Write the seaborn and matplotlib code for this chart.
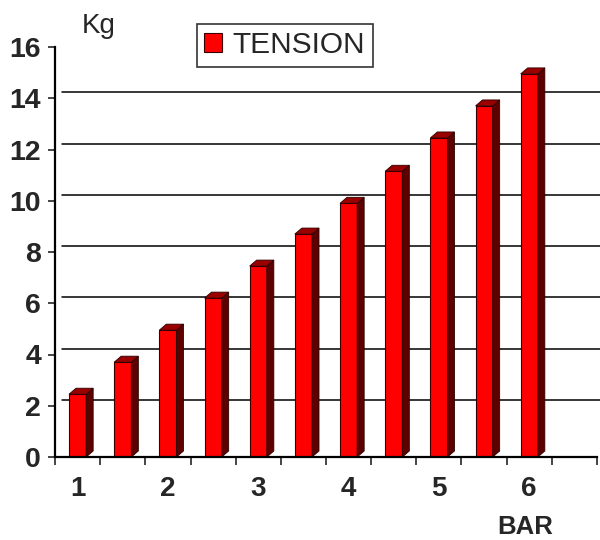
import matplotlib
matplotlib.use("Agg")
import matplotlib.pyplot as plt
from matplotlib.patches import Polygon, Patch
import pandas as pd
import seaborn as sns

# data
pressure = ["1", "1.5", "2", "2.5", "3", "3.5", "4", "4.5", "5", "5.5", "6"]
tension = [2.45, 3.7, 4.95, 6.2, 7.45, 8.7, 9.9, 11.15, 12.45, 13.7, 14.95]
slots = pressure + ["7"]          # empty last slot on the axis
tick_labels = ["1", "", "2", "", "3", "", "4", "", "5", "", "6", ""]

df = pd.DataFrame({"bar": pressure, "kg": tension})

sns.set_style("white")
plt.rcParams["font.family"] = ["Liberation Sans", "DejaVu Sans"]

fig = plt.figure(figsize=(6, 5.4), dpi=100)
ax = fig.add_axes([55 / 600, 1 - 457 / 540, 542 / 600, 410 / 540])

sns.barplot(data=df, x="bar", y="kg", order=slots, color="#ff0000",
            width=0.38, saturation=1, edgecolor="#3a0000", linewidth=0.8, ax=ax)

ax.set_xlim(-0.5, len(slots) - 0.5)
ax.set_ylim(0, 16)

# 3D depth in data units (about 7 px right, 6 px up)
dx = 7 / (542 / len(slots))
dy = 6 / (410 / 16)

# back wall grid lines, shifted by the depth
for g in range(2, 16, 2):
    ax.plot([-0.5 + dx, len(slots) - 0.5 + 0.2], [g + dy, g + dy],
            color="black", lw=1.1, zorder=0.5, clip_on=False)

for p in ax.patches:
    x0, w, h = p.get_x(), p.get_width(), p.get_height()
    x1 = x0 + w
    side = Polygon([(x1, 0), (x1 + dx, dy), (x1 + dx, h + dy), (x1, h)],
                   closed=True, facecolor="#5c0000", edgecolor="#2a0000",
                   lw=0.6, zorder=p.get_zorder())
    top = Polygon([(x0, h), (x1, h), (x1 + dx, h + dy), (x0 + dx, h + dy)],
                  closed=True, facecolor="#9a0000", edgecolor="#2a0000",
                  lw=0.6, zorder=p.get_zorder())
    ax.add_patch(side)
    ax.add_patch(top)

# axes styling
for s in ["top", "right"]:
    ax.spines[s].set_visible(False)
for s in ["left", "bottom"]:
    ax.spines[s].set_color("black")
    ax.spines[s].set_linewidth(1.6)
ax.spines["bottom"].set_bounds(-0.5, len(slots) - 0.5)

ax.set_yticks(range(0, 17, 2))
ax.set_yticklabels([str(v) for v in range(0, 17, 2)], fontsize=20.5, fontweight="bold")
ax.tick_params(axis="y", direction="out", length=5, width=1.2, pad=5, left=True)

ax.set_xticks(range(len(slots)))
ax.set_xticklabels(tick_labels, fontsize=20, fontweight="bold")
ax.set_xticks([i - 0.5 for i in range(len(slots) + 1)], minor=True)
ax.tick_params(axis="x", which="major", length=0, pad=14)
ax.tick_params(axis="x", which="minor", direction="out", length=6, width=1.2, bottom=True)

ax.set_xlabel("")
ax.set_ylabel("")
fig.text(99 / 600, 1 - 26 / 540, "Kg", fontsize=20, ha="center", va="center")
fig.text(525 / 600, 1 - 527 / 540, "BAR", fontsize=18.5, fontweight="bold",
         ha="center", va="center")

handle = Patch(facecolor="#ff0000", edgecolor="#3a0000", linewidth=0.8)
leg = fig.legend([handle], ["TENSION"], loc="upper left",
                 bbox_to_anchor=(197 / 600, 1 - 24 / 540), fontsize=21.5,
                 frameon=True, fancybox=False, handlelength=0.6, handleheight=0.6,
                 handletextpad=0.35, borderpad=0.25, borderaxespad=0)
leg.get_frame().set_edgecolor("black")
leg.get_frame().set_linewidth(1.2)

fig.savefig("out.png", dpi=100)
